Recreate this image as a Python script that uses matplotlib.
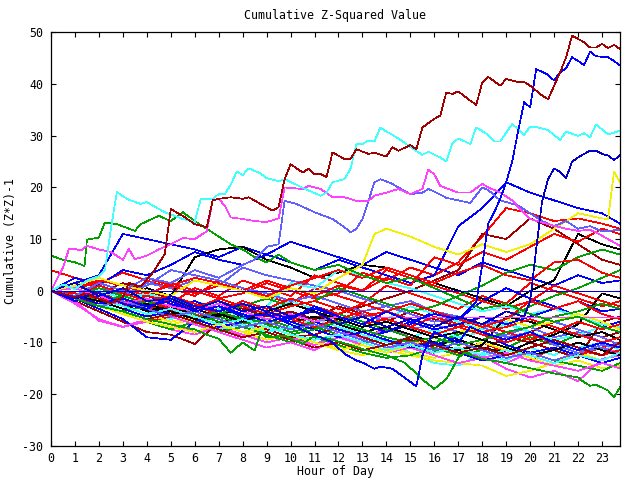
import matplotlib
matplotlib.use("Agg")
import matplotlib.pyplot as plt

# ---------------- data ----------------
title = "Cumulative Z-Squared Value"
xlabel = "Hour of Day"
ylabel = "Cumulative (Z*Z)-1"
xticks = list(range(0, 24))
yticks = [-30, -20, -10, 0, 10, 20, 30, 40, 50]
baseline = 0

R, G, B, M, C = '#ff0000', '#00a000', '#0000ff', '#ff40ff', '#40ffff'
DR, Y, K, LB, DB = '#a00000', '#f0f000', '#000000', '#6060ff', '#0000c8'

hours = [0, 1, 2, 3, 4, 5, 6, 7, 8, 9, 10, 11, 12, 13, 14, 15, 16, 17, 18, 19,
         20, 21, 22, 23, 23.75]

# hourly-sampled series (bundle)
b01 = [4.0, 2.5, 1.5, 3.5, 2.0, 0.5, -1.0, 2.0, 0.5, -1.0, -2.5, 0.5, -1.0, -2.5, 1.0, -0.5, -2.0, -3.5, -1.0, -2.5, 1.5, 0.0, -1.5, -3.0, -2.0]
b03 = [0, 1.5, 3.0, 11.0, 10.0, 9.0, 8.0, 6.5, 8.5, 7.0, 9.5, 8.0, 6.5, 5.0, 7.5, 6.0, 4.5, 3.0, 5.5, 4.0, 2.5, 1.0, 3.0, 1.5, 2.0]
b04 = [0, -2.5, -5.5, -7.0, -6.0, -7.5, -8.5, -7.0, -9.0, -8.0, -9.5, -10.5, -9.0, -10.0, -11.5, -10.0, -11.0, -12.0, -12.6, -15.1, -16.8, -15.5, -17.5, -13.2, -12.5]
b05 = [0, -1.0, -3.0, -2.0, -4.0, -5.5, -3.5, -5.0, -6.5, -4.5, -6.0, -7.5, -6.0, -8.0, -9.5, -12.0, -14.0, -14.5, -12.0, -13.5, -11.0, -12.5, -10.0, -11.5, -10.5]
b06 = [0, -2.0, -4.0, -6.0, -8.0, -8.5, -10.3, -6.0, -5.0, -6.5, -4.0, -5.5, -3.0, -4.5, -6.0, -4.0, -5.5, -7.0, -5.0, -6.5, -8.0, -6.0, -7.5, -9.0, -8.0]
b07 = [0, -1.5, -3.0, -4.5, -5.0, -6.5, -5.5, -7.0, -8.5, -7.5, -9.0, -10.0, -11.0, -10.0, -11.5, -12.5, -13.5, -14.0, -14.5, -16.5, -15.5, -14.0, -12.0, -13.5, -12.0]
b08 = [0, 1.0, 0.0, -1.5, 0.5, -1.0, 6.5, 8.0, 8.5, 6.0, 4.5, 2.5, 3.5, 5.0, 4.5, 3.0, 1.5, 0.0, -1.5, -3.0, 0.0, 2.0, 11.0, 9.0, 8.0]
b09 = [0, -0.5, -2.0, -1.0, 1.5, 0.5, 2.0, 1.0, 4.5, 3.0, 2.0, 1.0, 0.0, -1.5, -3.0, -2.0, -4.0, -5.0, -6.5, -5.5, -7.0, -9.0, -8.0, -10.0, -11.5]
b10 = [0, -1.5, -3.0, -4.5, -6.0, -5.0, -6.5, -4.5, -5.5, -7.0, -5.0, -6.5, -8.0, -9.5, -7.0, -8.5, -10.0, -11.5, -10.0, -12.0, -13.5, -11.0, -12.5, -11.0, -10.0]
b11 = [0, -1.0, -2.0, -3.5, -2.0, -3.0, -4.5, -6.0, -5.0, -6.5, -8.0, -7.0, -8.5, -10.0, -9.5, -11.0, -12.0, -8.0, -9.5, -11.0, -9.0, -10.5, -8.5, -10.0, -9.0]
b12 = [0, -1.5, -3.5, -5.5, -9.0, -9.5, -6.0, -4.5, -3.0, -5.0, -4.0, -6.0, -7.5, -9.0, -8.0, -6.5, -4.0, -5.5, -2.0, 0.5, -1.5, -3.0, -5.0, -7.0, -6.0]
b13 = [0, -2.0, -5.8, -7.0, -5.5, -6.5, -8.0, -7.0, -8.5, -10.0, -9.0, -10.5, -8.0, -9.0, -7.5, -8.5, -10.0, -11.5, -13.0, -14.0, -12.0, -13.5, -12.0, -11.0, -12.0]
b14 = [0, 0.5, -1.0, 0.5, -1.5, -3.0, -2.0, -3.5, -5.0, -4.0, -2.0, -3.5, -5.0, -6.5, -5.5, -3.0, -4.5, -6.0, -7.5, -6.0, -8.0, -9.5, -8.5, -7.0, -8.0]
b15 = [0, -1.0, -2.5, -1.5, -3.5, -5.0, -6.5, -8.0, -6.0, -7.5, -9.0, -8.5, -7.0, -9.0, -10.5, -9.5, -11.0, -12.5, -11.5, -9.0, -10.0, -11.5, -13.0, -6.0, -5.0]
b17 = [0, -1.5, -3.0, -2.0, -4.0, -3.0, -5.0, -6.5, -4.5, -6.0, -7.5, -5.5, -7.0, -8.5, -10.0, -9.0, -10.5, -9.5, -11.0, -12.0, -10.0, -8.5, -6.5, -0.5, -1.5]
b18 = [0, -0.5, -2.0, -3.5, -2.5, -4.0, -5.0, -6.5, -5.5, -4.0, -5.5, -7.0, -6.0, -4.5, -6.0, -7.5, -6.5, -8.0, -9.5, -8.5, -7.0, -6.0, -7.5, -9.0, -10.5]
b19 = [0, -0.5, -2.0, 0.5, -1.0, 1.5, 0.0, -1.5, -0.5, 1.5, 0.0, -1.5, -0.5, 3.5, 2.0, 4.5, 3.0, 5.5, 10.5, 16.0, 15.0, 13.5, 14.0, 13.0, 12.0]
b20 = [0, -1.0, -2.5, -4.0, -3.0, -4.5, -6.0, -5.0, -6.5, -5.5, -7.0, -6.0, -4.5, -6.0, -7.5, -9.0, -10.0, -8.5, -7.0, -5.5, -3.0, -1.0, 0.5, 2.5, 4.0]
b21 = [0, -2.0, -1.0, -3.0, -4.5, -3.0, -2.0, -4.0, -5.5, -4.5, -6.0, -7.5, -9.0, -10.5, -12.0, -11.0, -10.5, -9.0, -8.0, -10.5, -12.0, -11.0, -12.5, -14.0, -13.0]
b23 = [0, -1.0, -2.5, -4.0, -5.5, -4.5, -6.0, -7.5, -6.5, -8.0, -7.0, -5.5, -7.0, -8.5, -10.0, -9.0, -7.5, -9.0, -8.0, -6.5, -8.0, -9.5, -11.0, -10.0, -11.5]
b24 = [0, 1.0, -0.5, 1.5, 0.0, -1.5, -3.0, -2.0, -3.5, -5.0, -4.0, -5.5, -4.5, -3.0, -1.5, 0.0, 2.0, 4.0, 11.0, 10.0, 14.0, 12.0, 9.0, 6.0, 5.0]
b25 = [0, -0.5, -1.5, -3.0, -4.5, -6.0, -5.0, -6.5, -8.0, -9.5, -8.5, -10.0, -11.5, -12.5, -11.0, -12.0, -13.0, -12.0, -10.0, -11.5, -13.0, -14.5, -13.5, -15.0, -14.5]
b26 = [0, -1.0, -2.5, -1.5, -3.0, -4.5, -3.5, -5.0, -3.0, -4.5, -6.0, -5.0, -6.5, -8.0, -7.0, -8.5, -10.0, -11.5, -10.5, -5.0, -6.0, -7.5, -9.0, -8.0, -9.5]
b27 = [0, -1.0, -0.5, -2.0, -3.5, -2.5, 0.5, -1.0, 2.0, 0.5, -1.0, 3.0, 1.5, 0.0, 4.0, 2.5, 1.0, -0.5, -2.0, -3.5, -2.0, 1.0, -0.5, -2.0, -3.0]
b28 = [0, -1.5, -3.0, -4.5, -6.0, -7.5, -6.0, -8.0, -7.0, -8.5, -10.0, -9.0, -10.5, -12.0, -13.0, -12.5, -11.0, -12.5, -11.5, -13.0, -12.0, -13.5, -14.5, -15.5, -14.0]
b29 = [0, 2.5, 1.0, 4.0, 3.0, 5.0, 7.5, 6.0, 5.0, 7.0, 5.5, 4.0, 6.0, 4.5, 3.0, 1.5, 3.0, 12.5, 16.0, 21.0, 19.0, 17.5, 16.0, 15.0, 13.0]
b30 = [0, -1.0, -3.0, -2.0, -3.5, -5.0, -6.5, -8.0, -9.5, -11.0, -10.0, -11.5, -9.0, -10.5, -12.0, -11.0, -12.5, -14.0, -13.0, -12.0, -13.5, -14.5, -15.5, -14.0, -15.0]
b31 = [0, 1.0, 0.0, -1.5, -0.5, -2.0, -3.5, -2.5, -4.0, -3.0, 1.5, 0.5, 4.0, 3.0, 1.5, 0.5, -1.0, -2.5, -4.0, -3.0, -4.5, -3.5, -5.0, -6.5, -7.0]
b32 = [0, -1.0, 0.5, -0.5, 1.0, 4.0, 3.0, 2.0, 0.5, -0.5, -2.0, -1.0, -2.5, -4.0, -3.0, -4.5, -6.0, -5.0, -7.0, -9.0, -8.0, -10.5, -12.0, -11.0, -12.5]
b33 = [0, -0.5, -1.5, -3.0, -2.0, -3.5, -5.0, -4.0, -2.5, -4.0, -5.5, -3.5, -5.0, -6.5, -5.5, -7.0, -5.0, -6.5, -8.0, -7.0, -5.5, -7.0, -8.5, -10.0, -9.0]
b34 = [0, 0.5, 1.5, 0.0, 2.5, 1.0, -0.5, 1.0, 0.0, 2.0, 0.5, -1.0, 1.0, 0.0, 2.5, 1.0, 6.5, 5.0, 7.5, 6.0, 8.5, 11.0, 9.5, 12.0, 11.0]
b35 = [0, -1.0, -2.0, -3.5, -5.0, -4.0, -5.5, -7.0, -6.0, -4.5, -6.0, -7.5, -9.0, -8.0, -9.5, -11.0, -10.0, -12.0, -13.5, -12.5, -11.0, -9.5, -11.0, -12.5, -11.5]
b36 = [0, -1.0, 0.5, -1.0, -2.5, -1.5, -3.0, -4.5, -3.0, -1.5, -3.0, -2.0, 0.5, -1.0, -2.5, -4.0, -3.0, -1.0, 1.0, 3.5, 5.0, 4.0, 6.5, 8.0, 7.0]
b37 = [0, -1.5, -3.0, -4.5, -6.0, -7.0, -8.0, -6.5, -8.0, -7.0, -8.5, -10.0, -11.5, -10.5, -12.0, -10.5, -9.0, -8.0, -7.0, -5.5, -7.0, -6.0, -4.5, -6.0, -7.5]
b38 = [0, -1.0, 1.0, -0.5, -2.0, -1.0, -2.5, -4.0, -2.0, -3.5, -1.5, -3.0, -4.5, -2.5, -4.0, -5.5, -7.0, -5.0, -6.5, -8.0, -9.5, -8.0, -6.0, -7.5, -6.5]
b39 = [0, 0.5, -1.0, -2.5, -1.0, -2.5, -4.0, -3.0, -4.5, -6.0, -5.0, -3.5, -5.0, -6.5, -8.0, -6.0, -7.5, -6.5, -5.0, -6.5, -5.0, -3.5, -2.0, -4.0, -3.5]
b40 = [0, -1.5, -2.5, -1.0, -2.5, -4.0, -3.0, -4.5, -6.0, -4.0, -5.5, -7.0, -5.5, -4.0, -5.5, -7.0, -8.5, -7.0, -8.5, -10.0, -8.5, -10.0, -11.5, -12.5, -11.5]
b41 = [0, -0.5, -2.0, -1.0, -2.5, -4.0, -5.5, -4.0, -5.5, -7.0, -8.5, -7.5, -6.0, -7.5, -9.0, -10.0, -9.0, -10.5, -9.5, -8.0, -7.0, -5.0, -4.0, -2.5, -3.5]
b42 = [0, -1.0, -2.0, -3.5, -2.5, -4.0, -5.5, -4.5, -6.0, -4.0, -2.5, -4.0, -5.5, -7.0, -6.0, -7.5, -9.0, -8.0, -9.5, -11.0, -12.5, -11.5, -10.0, -11.5, -12.5]
b43 = [0, -0.5, -1.5, -3.0, -4.5, -3.5, -5.0, -6.5, -5.5, -7.0, -8.5, -9.5, -8.5, -10.0, -11.5, -10.5, -12.0, -11.0, -12.5, -11.5, -12.5, -14.0, -12.5, -13.5, -12.0]
b44 = [0, 0.5, 2.0, 1.0, -0.5, 1.0, 2.5, 1.5, 0.0, -1.0, 1.0, 2.5, 4.0, 2.5, 4.5, 3.0, 1.5, 3.5, 5.0, 3.0, 2.0, 5.5, 6.0, 3.5, 2.5]
b45 = [0, -1.5, -3.0, -2.0, -3.5, -5.0, -4.0, -5.5, -7.0, -6.0, -7.5, -6.5, -8.0, -9.5, -11.0, -10.0, -11.5, -10.0, -11.5, -13.0, -12.0, -13.5, -12.0, -10.5, -11.0]
b46 = [0, -0.5, -1.5, -2.5, -1.0, -2.0, -3.5, -1.5, -3.0, -4.5, -3.0, -2.0, -3.5, -5.0, -4.0, -2.5, -4.0, -5.5, -7.0, -5.5, -2.0, -3.5, -2.0, -4.5, -5.5]
b47 = [0, -1.5, -3.0, -4.0, -5.5, -4.5, -6.0, -7.5, -9.0, -8.0, -9.5, -11.0, -10.0, -11.5, -10.5, -9.0, -10.5, -12.0, -11.0, -12.5, -11.0, -9.5, -11.0, -12.5, -10.0]

# irregularly sampled, prominent series
flat_mag_x = [0, 1, 2, 3, 4, 5, 6, 7, 8, 9, 10, 11, 12, 13, 13.5, 23.75]
flat_mag_y = [0, 0.5, -1.0, -2.5, -1.5, -3.0, -4.0, -2.5, -4.0, -5.5, -4.5, -6.0, -5.0, -6.5, -5.2, -5.2]

yel_hi_x = [0, 1, 2, 3, 4, 5, 6, 7, 8, 9, 10, 11, 12, 13, 13.5, 14, 15, 16, 17, 18, 19, 20, 21, 22, 23, 23.25, 23.5, 23.75]
yel_hi_y = [0, 1.0, 2.5, 1.0, 0.0, -1.0, 2.0, 1.0, 0.0, -1.5, 0.5, -0.5, 2.5, 5.0, 11.0, 12.0, 10.5, 8.5, 7.0, 9.0, 7.5, 9.0, 12.0, 15.0, 14.0, 13.9, 23.0, 21.0]

dr_top_x = [0, 0.5, 1, 1.5, 2, 2.5, 3, 3.25, 3.75, 4.25, 4.75, 5, 5.5, 6, 6.5, 6.75, 7, 7.5, 8, 8.25, 8.75, 9.25, 9.5, 9.75,
            10, 10.5, 10.75, 11, 11.25, 11.5, 11.75, 12.25, 12.5, 12.75, 13.25, 13.5, 14, 14.25, 14.5, 15, 15.25,
            15.5, 16, 16.25, 16.5, 16.75, 17, 17.5, 17.75, 18, 18.25, 18.75, 19, 19.5, 19.75, 20, 20.5, 20.75,
            21, 21.25, 21.5, 21.75, 22.25, 22.5, 22.75, 23, 23.25, 23.5, 23.75]
dr_top_y = [0, -0.6, -1.2, -0.5, -1.6, -2.4, -1.2, 1.5, 0.8, 3.5, 7.1, 15.8, 14.5, 12.9, 12.3, 17.5, 17.8, 18.1, 17.8, 18.1, 16.8, 15.5, 16.2, 21.6,
            24.5, 22.9, 23.6, 22.6, 22.6, 22.0, 26.8, 25.5, 25.5, 27.4, 26.5, 26.7, 26.0, 27.8, 27.1, 28.2, 27.4,
            31.6, 33.3, 33.9, 38.4, 38.1, 38.6, 36.8, 36.0, 40.3, 41.4, 39.7, 41.0, 40.4, 40.4, 39.7, 37.8, 37.1,
            39.7, 42.3, 45.2, 49.4, 48.1, 47.1, 47.1, 47.8, 47.0, 47.6, 46.8]

blue_riser_x = [0, 1, 2, 3, 4, 5, 6, 7, 8, 9, 10, 11, 12, 13, 14, 15, 16, 17, 17.75, 18, 18.25, 18.5, 18.75, 19, 19.25,
                19.5, 19.75, 20, 20.25, 20.5, 20.75, 21, 21.25, 21.5, 21.75, 22, 22.25, 22.5, 22.75, 23.25, 23.5, 23.75]
blue_riser_y = [0, -1.5, -0.5, -2.5, -3.5, -1.0, -3.0, -4.0, -2.5, -4.0, -5.5, -3.0, -5.0, -6.5, -4.0, -6.0, -4.5, -5.5, -2.2, 5.0, 13.0, 15.2, 17.8, 21.0, 25.0,
                31.0, 36.5, 35.5, 42.9, 42.4, 41.8, 40.7, 42.3, 43.1, 45.2, 44.5, 43.7, 46.3, 45.4, 45.2, 44.5, 43.6]

cyan_up_x = [0, 0.5, 1, 1.5, 2, 2.25, 2.5, 2.75, 3, 3.25, 3.75, 4, 4.25, 4.75, 5.5, 6, 6.25, 6.75, 7, 7.25, 7.5, 7.75, 8, 8.25,
             8.5, 8.75, 9, 9.5, 9.75, 10.75, 11.25, 11.5, 11.75, 12.25, 12.5, 12.75, 13, 13.25, 13.5, 13.75, 14, 14.25,
             14.75, 15, 15.5, 15.75, 16.25, 16.5, 16.75, 17, 17.5, 17.75, 18.25, 18.5, 18.75, 19.25, 19.75, 20, 20.25,
             20.75, 21.25, 21.5, 22, 22.25, 22.5, 22.75, 23.25, 23.5, 23.75]
cyan_up_y = [0, 1.2, 0.3, 2.0, 2.8, 4.0, 12.0, 19.1, 18.3, 17.6, 16.8, 17.2, 16.5, 15.2, 13.9, 13.3, 17.8, 17.8, 18.7, 18.7, 20.5, 23.1, 22.4, 23.7,
             23.2, 22.7, 21.8, 21.2, 21.6, 19.4, 18.4, 19.0, 21.0, 21.6, 23.6, 28.4, 28.4, 29.1, 28.9, 31.6, 30.8, 30.2,
             28.7, 27.8, 26.3, 26.9, 25.8, 25.0, 28.5, 29.5, 28.4, 31.6, 30.2, 28.9, 28.9, 32.3, 30.2, 31.8, 31.7,
             31.1, 29.2, 30.8, 30.0, 30.5, 29.7, 32.2, 30.3, 30.6, 31.0]

db_up_x = [0, 1, 2, 3, 4, 5, 6, 7, 8, 9, 10, 11, 12, 13, 14, 15, 16, 17, 18, 19, 19.75, 20, 20.25, 20.5, 20.75, 21,
           21.25, 21.5, 21.75, 22, 22.25, 22.5, 22.75, 23, 23.25, 23.5, 23.75]
db_up_y = [0, 1.5, -1.0, 0.5, -2.0, -1.5, -3.5, -2.0, -4.0, -3.0, -5.0, -4.0, -6.5, -5.0, -7.0, -5.5, -7.0, -5.0, -6.5, -4.0, -5.0, -2.0, 8.0, 17.4, 21.6, 23.7,
           23.0, 21.8, 25.0, 25.8, 26.5, 27.1, 27.1, 26.5, 26.2, 25.3, 26.2]

mag_up_x = [0, 0.5, 0.75, 1, 1.25, 1.5, 2, 2.5, 3, 3.25, 3.5, 4, 4.5, 5, 5.5, 6, 6.5, 6.75, 7, 7.25, 7.5, 8, 8.5, 9, 9.5,
            9.75, 10.5, 10.75, 11.25, 11.75, 12.25, 12.75, 13.25, 13.5, 14, 14.5, 15, 15.5, 15.75, 16, 16.25, 17,
            17.5, 18, 18.25, 18.75, 19.25, 19.75, 20, 20.5, 21, 21.5, 22, 22.5, 22.75, 23.25, 23.75]
mag_up_y = [0, 4.5, 8.1, 8.1, 7.8, 8.7, 8.0, 7.5, 6.0, 8.1, 6.1, 6.8, 8.0, 9.0, 10.2, 10.0, 11.5, 17.5, 17.8, 16.5, 14.2, 13.9, 13.5, 13.3, 14.0,
            20.0, 19.7, 20.3, 19.7, 18.1, 18.1, 17.4, 17.4, 18.4, 19.0, 19.7, 18.7, 19.7, 23.5, 22.5, 20.3, 19.0,
            19.0, 20.7, 20.0, 19.0, 17.5, 15.0, 13.9, 13.2, 12.6, 12.0, 11.6, 11.8, 11.3, 10.0, 8.7]

lb_up_x = [0, 1, 2, 3, 4, 5, 6, 7, 8, 8.5, 9, 9.5, 9.75, 10.25, 11, 11.75, 12.25, 12.5, 12.75, 13, 13.25, 13.5, 13.75,
           14.25, 14.5, 15, 15.5, 15.75, 16, 16.5, 17, 17.5, 18, 18.25, 18.75, 19.5, 20, 20.5, 21, 21.5, 22, 22.5, 23, 23.75]
lb_up_y = [0, -1.0, 1.5, 0.0, 2.5, 1.5, 4.0, 2.5, 5.0, 6.0, 8.5, 9.0, 17.4, 16.8, 15.2, 13.9, 12.3, 11.3, 12.0, 13.9, 17.4, 21.0, 21.6,
           20.7, 20.0, 18.7, 19.0, 19.7, 19.2, 18.0, 17.5, 17.0, 20.0, 19.5, 17.5, 16.5, 15.0, 13.5, 12.5, 13.5, 12.0, 12.5, 11.5, 11.8]

grn_hi_x = [0, 0.5, 1, 1.4, 1.5, 2, 2.25, 2.75, 3.5, 3.75, 4.5, 5, 5.5, 6, 6.5, 7, 7.5, 8, 8.5, 9, 9.5, 10, 11, 12, 13,
            14, 15, 16, 17, 18, 19, 20, 21, 22, 23, 23.75]
grn_hi_y = [6.8, 6.0, 5.5, 4.8, 9.9, 10.3, 13.2, 12.9, 11.6, 12.9, 14.5, 13.5, 15.2, 13.5, 12.0, 10.5, 9.0, 8.0, 6.5, 5.5, 7.0, 5.5, 4.0, 5.0, 3.0,
            1.5, 2.5, 0.5, -1.5, -3.5, -2.5, -4.5, -6.0, -5.0, -7.0, -8.0]

grn_lo_x = [0, 1, 2, 3, 4, 5, 6, 6.5, 7, 7.5, 8, 8.5, 8.75, 9, 9.75, 10.5, 11, 11.75, 12.5, 13, 14, 14.75, 15.25, 15.5,
            16, 16.5, 16.75, 17, 17.25, 18, 19, 20, 21, 22, 22.25, 22.5, 22.75, 23.25, 23.5, 23.75]
grn_lo_y = [0, -1.5, -3.0, -4.0, -5.5, -6.5, -7.5, -8.5, -9.3, -12.0, -10.0, -11.6, -8.0, -9.0, -8.7, -10.3, -8.7, -9.5, -10.5, -11.3, -12.5, -13.9, -16.0, -17.2,
            -19.0, -17.1, -15.1, -13.0, -12.0, -13.2, -14.0, -15.0, -16.0, -16.8, -17.7, -18.4, -18.2, -19.3, -20.6, -18.7]

blu_lo_x = [0, 1, 2, 3, 4, 5, 6, 7, 8, 9, 10, 10.75, 11.5, 11.75, 12.25, 12.75, 13, 13.5, 13.75, 14.25, 14.75, 15.25,
            15.5, 15.75, 16, 16.5, 17, 17.5, 18, 19, 20, 21, 22, 23, 23.75]
blu_lo_y = [0, -1.0, -2.5, -1.5, -3.0, -2.0, -4.0, -3.0, -5.0, -4.5, -6.5, -8.1, -9.5, -10.0, -12.2, -13.5, -13.9, -15.1, -14.7, -15.1, -16.8, -18.5,
            -12.6, -10.0, -8.0, -9.0, -10.0, -7.0, -8.0, -9.5, -8.0, -10.0, -11.5, -10.0, -11.0]

# ---------------- plot ----------------
fig = plt.figure(figsize=(6.4, 4.8), dpi=100)
ax = fig.add_axes([51 / 640, 1 - 445.7 / 480, (620 - 51) / 640, (445.7 - 32.5) / 480])

lw = 0.5
kw = dict(lw=lw, antialiased=False)

hourly = [(b01, R), (b03, B), (b04, M), (b05, C), (b06, DR), (b07, Y), (b08, K), (b09, LB),
          (b10, R), (b11, G), (b12, B), (b13, M), (b14, C), (b15, DR), (b17, K), (b18, LB),
          (b19, R), (b20, G), (b21, B), (b23, C), (b24, DR), (b25, Y), (b26, K), (b27, R),
          (b28, G), (b29, B), (b30, M), (b31, C), (b32, LB), (b33, R), (b34, R), (b35, B),
          (b36, G), (b37, Y), (b38, R), (b39, B), (b40, R), (b41, G), (b42, K), (b43, C),
          (b44, R), (b45, LB), (b46, R), (b47, DR)]
for vals, col in hourly:
    ax.plot(hours, vals, color=col, **kw)

irregular = [(flat_mag_x, flat_mag_y, M), (yel_hi_x, yel_hi_y, Y), (grn_lo_x, grn_lo_y, G),
             (blu_lo_x, blu_lo_y, B), (grn_hi_x, grn_hi_y, G), (lb_up_x, lb_up_y, LB),
             (mag_up_x, mag_up_y, M), (db_up_x, db_up_y, DB), (cyan_up_x, cyan_up_y, C),
             (blue_riser_x, blue_riser_y, B), (dr_top_x, dr_top_y, DR)]
for xs, ys, col in irregular:
    ax.plot(xs, ys, color=col, **kw)

ax.axhline(baseline, color='#0000e0', lw=lw, antialiased=False)

ax.set_xlim(0, 23.75)
ax.set_ylim(-30, 50)
ax.set_xticks(xticks)
ax.set_yticks(yticks)
mono = 'DejaVu Sans Mono'
fs = 8.4
ax.set_xticklabels([str(t) for t in xticks], family=mono, fontsize=fs)
ax.set_yticklabels([str(t) for t in yticks], family=mono, fontsize=fs)
ax.tick_params(direction='in', length=3.6, width=0.8, top=True, right=True)
ax.tick_params(axis='x', pad=4.5)
ax.tick_params(axis='y', pad=5.8)
for s in ax.spines.values():
    s.set_linewidth(0.9)

fig.text(335.5 / 640, 1 - 15 / 480, title, family=mono, fontsize=fs, ha='center', va='center')
fig.text(335.5 / 640, 1 - 472 / 480, xlabel, family=mono, fontsize=fs, ha='center', va='center')
fig.text(11 / 640, 1 - 241 / 480, ylabel, family=mono, fontsize=fs, ha='center', va='center', rotation=90)

fig.savefig("out.png", dpi=100)
